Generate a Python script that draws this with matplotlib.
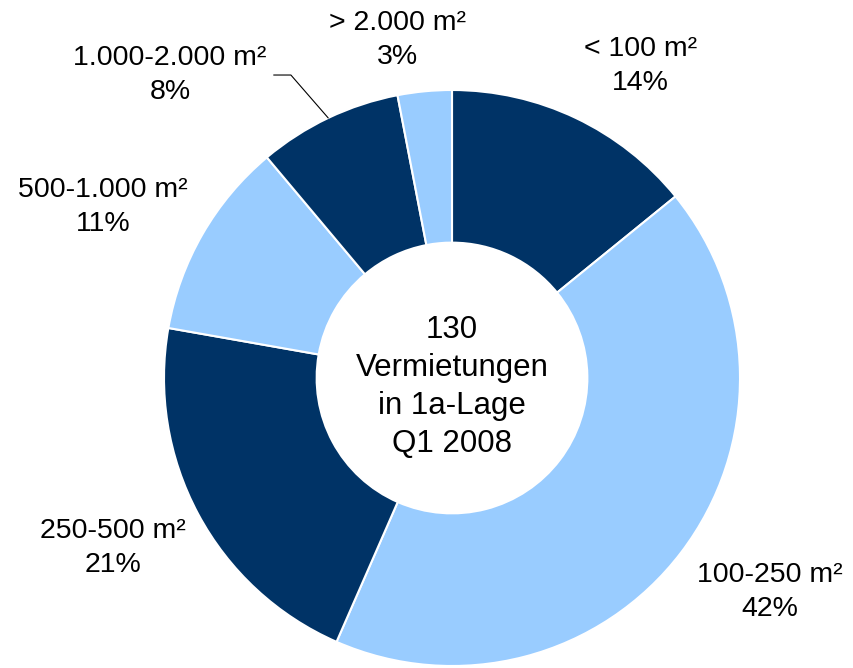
import matplotlib.pyplot as plt
import numpy as np

plt.rcParams['font.family'] = ['Liberation Sans', 'DejaVu Sans']

labels = ['< 100 m²', '100-250 m²', '250-500 m²', '500-1.000 m²', '1.000-2.000 m²', '> 2.000 m²']
shares = [14, 42, 21, 11, 8, 3]
colors = ['#003366', '#99CCFF', '#003366', '#99CCFF', '#003366', '#99CCFF']
center_text = '130\nVermietungen\nin 1a-Lage\nQ1 2008'

# label block centres (axes units, pie radius = 1)
label_pos = [(0.653, 1.083), (1.104, -0.743), (-1.177, -0.590),
             (-1.212, 0.594), (-0.979, 1.052), (-0.188, 1.174)]

fig = plt.figure(figsize=(8.54, 6.68), dpi=100)
ax = fig.add_axes([0, 0, 1, 1])

wedges, _ = ax.pie(shares, colors=colors, startangle=90, counterclock=False,
                   radius=1, wedgeprops=dict(width=0.53, edgecolor='white', linewidth=1.5))

for i, (w, lab, val) in enumerate(zip(wedges, labels, shares)):
    txt = f'{lab}\n{val}%'
    if i == 4:
        ang = np.deg2rad((w.theta1 + w.theta2) / 2)
        ax.annotate(txt, xy=(np.cos(ang), np.sin(ang)), xytext=label_pos[i],
                    ha='center', va='center', fontsize=20.5, linespacing=1.4,
                    arrowprops=dict(arrowstyle='-', color='black', lw=0.8,
                                    connectionstyle='angle,angleA=0,angleB=131,rad=0',
                                    shrinkA=3, shrinkB=0))
    else:
        ax.text(*label_pos[i], txt, ha='center', va='center', fontsize=20.5, linespacing=1.4)

ax.text(0, -0.03, center_text, ha='center', va='center', fontsize=22.5, linespacing=1.35)

ax.set_xlim(-452 / 288, (854 - 452) / 288)
ax.set_ylim(-(668 - 378) / 288, 378 / 288)
ax.set_aspect('equal')
ax.axis('off')

plt.savefig('out.png', dpi=100)
